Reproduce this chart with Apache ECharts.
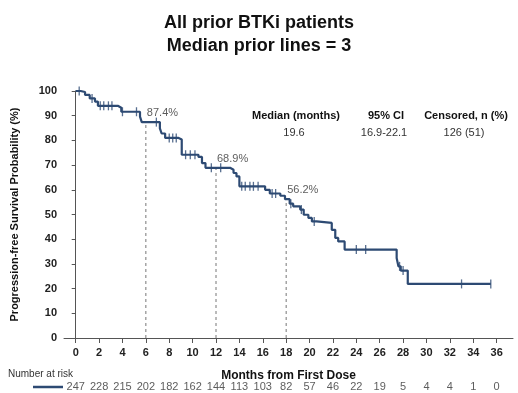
<!DOCTYPE html>
<html>
<head>
<meta charset="utf-8">
<script src="https://cdn.jsdelivr.net/npm/echarts@6/dist/echarts.min.js"></script>
<style>
  html, body { margin: 0; padding: 0; background: #fff; }
  #chart { width: 518px; height: 393px; }
</style>
</head>
<body>
<div id="chart"></div>
<script>
// Kaplan-Meier step curve: time (months) and survival (%) from that time on
const kmTimes = [0, 0.4, 0.8, 1.2, 1.65, 1.9, 3.6, 3.9, 5.5, 5.65, 7.2, 7.35, 7.65, 8.8, 9.07,
  10.5, 10.8, 11.1, 13.2, 13.5, 13.75, 14.0, 16.2, 16.6, 17.5, 17.9, 18.3, 18.6, 19.2, 19.5,
  19.9, 20.2, 20.6, 21.9, 22.2, 22.45, 23.0, 27.45, 27.6, 27.8, 28.4, 35.5];
const kmSurvival = [100, 99.6, 98.4, 97.0, 95.7, 94.0, 93.2, 91.6, 89.6, 87.4, 84.9, 82.8, 81.0, 80.4, 74.2,
  73.3, 70.8, 68.9, 68.1, 66.8, 65.4, 61.4, 60.0, 58.5, 57.6, 56.2, 54.4, 53.3, 52.0, 49.9,
  48.6, 47.2, 46.6, 43.8, 40.5, 39.1, 35.8, 32.4, 29.0, 27.3, 21.9, 21.9];

// Censoring times (months)
const censorTimes = [0.3, 1.4, 2.1, 2.4, 2.8, 3.1, 4.0, 5.2, 6.9, 8.0, 8.3, 8.6, 9.4, 9.8, 10.2,
  11.6, 12.4, 14.2, 14.5, 14.9, 15.2, 15.6, 16.8, 17.1, 18.4, 19.3, 20.4, 24.0, 24.8, 27.7,
  28.0, 33.0, 35.5];

// Landmark estimates
const landmarkMonths = [6, 12, 18];
const landmarkPfs = [87.4, 68.9, 56.2];

// Axis ticks
const xTicks = [0, 2, 4, 6, 8, 10, 12, 14, 16, 18, 20, 22, 24, 26, 28, 30, 32, 34, 36];

// Number at risk at each x tick
const atRisk = [247, 228, 215, 202, 182, 162, 144, 113, 103, 82, 57, 46, 22, 19, 5, 4, 4, 1, 0];

// Summary statistics
const statHeaders = ['Median (months)', '95% CI', 'Censored, n (%)'];
const statValues = ['19.6', '16.9-22.1', '126 (51)'];

const NAVY = '#2d4a73';
const FONT = 'Liberation Sans, Arial, sans-serif';

function survivalAt(t) {
  let s = kmSurvival[0];
  for (let i = 0; i < kmTimes.length; i++) {
    if (kmTimes[i] <= t) s = kmSurvival[i]; else break;
  }
  return s;
}

const curveData = kmTimes.map((t, i) => [t, kmSurvival[i]]);
const censorData = censorTimes.map(t => [t, survivalAt(t)]);
const riskData = xTicks.map((t, i) => [t, 0, atRisk[i]]);

const X_MIN = -1, X_MAX = 37.4;

const landmarkSeries = landmarkMonths.map((m, i) => ({
  type: 'line',
  xAxisIndex: 0, yAxisIndex: 0,
  data: [[m, 0], [m, landmarkPfs[i]]],
  symbol: 'none',
  silent: true,
  lineStyle: { color: '#777', width: 1, type: [3, 3] },
  z: 1
}));

const statX = [296, 386, 466];

const chart = echarts.init(document.getElementById('chart'), null, { renderer: 'canvas' });
chart.setOption({
  backgroundColor: '#fff',
  animation: false,
  textStyle: { fontFamily: FONT },
  title: {
    text: 'All prior BTKi patients\nMedian prior lines = 3',
    left: 'center',
    top: 7,
    textStyle: { fontFamily: FONT, fontSize: 18, fontWeight: 'bold', color: '#111', lineHeight: 23 }
  },
  grid: [
    { left: 64, right: 5, top: 91, height: 247, containLabel: false },
    { left: 64, right: 5, top: 380, height: 14, containLabel: false }
  ],
  xAxis: [
    {
      type: 'value', gridIndex: 0, min: X_MIN, max: X_MAX,
      name: 'Months from First Dose', nameLocation: 'middle', nameGap: 32,
      nameTextStyle: { fontFamily: FONT, fontSize: 12, fontWeight: 'bold', color: '#111' },
      axisLine: { show: true, onZero: false, lineStyle: { color: '#555', width: 1 } },
      axisTick: { show: true, length: 5, customValues: xTicks, lineStyle: { color: '#555' } },
      axisLabel: { customValues: xTicks, margin: 9, fontFamily: FONT, fontSize: 11, fontWeight: 'bold', color: '#222' },
      splitLine: { show: false }
    },
    {
      type: 'value', gridIndex: 1, min: X_MIN, max: X_MAX,
      show: false
    }
  ],
  yAxis: [
    {
      type: 'value', gridIndex: 0, min: 0, max: 100, interval: 10,
      name: 'Progression-free Survival Probability (%)', nameLocation: 'middle', nameGap: 44,
      nameTextStyle: { fontFamily: FONT, fontSize: 11, fontWeight: 'bold', color: '#111' },
      axisLine: { show: true, lineStyle: { color: '#555', width: 1 } },
      axisTick: { show: true, length: 4, lineStyle: { color: '#555' } },
      axisLabel: { margin: 7, fontFamily: FONT, fontSize: 11, fontWeight: 'bold', color: '#222' },
      splitLine: { show: false }
    },
    { type: 'value', gridIndex: 1, min: -1, max: 1, show: false }
  ],
  series: [
    ...landmarkSeries,
    {
      type: 'line',
      name: 'All prior BTKi',
      xAxisIndex: 0, yAxisIndex: 0,
      data: curveData,
      step: 'end',
      symbol: 'none',
      lineStyle: { color: NAVY, width: 2.2 },
      z: 3
    },
    {
      type: 'scatter',
      xAxisIndex: 0, yAxisIndex: 0,
      data: censorData,
      symbol: 'rect',
      symbolSize: [1.3, 9],
      itemStyle: { color: NAVY },
      silent: true,
      z: 4
    },
    {
      type: 'scatter',
      xAxisIndex: 0, yAxisIndex: 0,
      data: landmarkMonths.map((m, i) => [m, landmarkPfs[i]]),
      symbolSize: 0,
      silent: true,
      label: {
        show: true, position: 'right', distance: 1, offset: [0, -9],
        formatter: p => p.value[1].toFixed(1) + '%',
        fontFamily: FONT, fontSize: 11, color: '#333'
      },
      z: 5
    },
    {
      type: 'scatter',
      xAxisIndex: 1, yAxisIndex: 1,
      data: riskData,
      symbolSize: 0,
      silent: true,
      label: {
        show: true, position: 'inside',
        formatter: p => String(p.value[2]),
        fontFamily: FONT, fontSize: 11, color: '#333'
      }
    }
  ],
  graphic: [
    ...statHeaders.map((h, i) => ({
      type: 'text', x: statX[i], y: 116,
      style: { text: h, fontFamily: FONT, fontSize: 11, fontWeight: 'bold', fill: '#111', textAlign: 'center', textVerticalAlign: 'middle' }
    })),
    ...statValues.map((v, i) => ({
      type: 'text', x: statX[i] - 2, y: 133,
      style: { text: v, fontFamily: FONT, fontSize: 11, fill: '#333', textAlign: 'center', textVerticalAlign: 'middle' }
    })),
    {
      type: 'text', x: 8, y: 374,
      style: { text: 'Number at risk', fontFamily: FONT, fontSize: 10, fill: '#333', textVerticalAlign: 'middle' }
    },
    {
      type: 'line', shape: { x1: 33, y1: 387, x2: 63, y2: 387 },
      style: { stroke: NAVY, lineWidth: 2.5 }
    }
  ]
});
</script>
</body>
</html>
